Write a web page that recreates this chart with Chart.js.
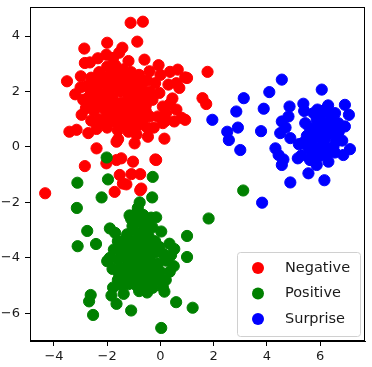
<!DOCTYPE html>
<html>
<head>
<meta charset="utf-8">
<script src="https://cdn.jsdelivr.net/npm/chart.js@4"></script>
<style>
  html, body { margin: 0; padding: 0; background: #fff; }
  #wrap { width: 372px; height: 367px; }
</style>
</head>
<body>
<div id="wrap"><canvas id="myChart"></canvas></div>
<script>
const seriesNames = ['Negative', 'Positive', 'Surprise'];
const seriesColors = ['#ff0000', '#008000', '#0000ff'];

const xTicks = [-4, -2, 0, 2, 4, 6];
const yTicks = [-6, -4, -2, 0, 2, 4];

// Negative (red)
const negative = [
    [-1.12, 4.48], [-0.66, 4.52], [-2.86, 3.55], [-2.0, 3.76], [-1.43, 3.58], [-0.87, 3.80],
    [-2.84, 3.03], [-2.03, 3.33], [-1.78, 3.21], [-3.51, 2.37], [-2.99, 2.55], [-0.07, 2.95],
    [0.36, 2.71], [0.65, 2.79], [0.93, 2.51], [1.77, 2.71], [0.71, 2.13], [1.58, 1.76],
    [1.72, 1.55], [0.93, 0.98], [0.52, 0.92], [0.09, 0.86], [0.21, 1.22], [0.09, 1.46],
    [-0.04, 1.95], [-0.41, 2.73], [-3.42, 0.55], [-3.15, 0.62], [-2.71, 0.5], [-2.9, 1.7],
    [-2.96, 1.16], [-2.4, -0.05], [-2.84, -0.69], [-2.03, -0.59], [-4.33, -1.67], [-1.65, 0.19],
    [-0.97, 0.13], [-1.59, 0.28], [-0.47, 0.37], [0.15, 0.3], [-1.03, -0.53], [-1.47, -0.41],
    [-0.19, -0.45], [-1.53, -1.01], [-1.09, -0.98], [-0.76, -0.98], [-1.72, -1.62], [-1.41, -1.32],
    [-0.76, -1.56], [-1.28, -1.35], [-0.72, -1.5], [-1.65, -0.47], [-0.16, -0.47], [1.0, 2.49],
    [0.6, 1.35], [0.8, 1.05], [0.35, 1.55],
    [-2.6, 2.5], [-2.3, 2.7], [-2.0, 2.9], [-1.7, 2.95], [-1.4, 2.8], [-1.1, 2.7], [-0.8, 2.6],
    [-0.5, 2.4], [-0.2, 2.3], [-2.8, 2.2], [-2.5, 2.1], [-2.2, 2.3], [-1.9, 2.4], [-1.6, 2.5],
    [-1.3, 2.3], [-1.0, 2.2], [-0.7, 2.1], [-0.4, 2.0], [-2.7, 1.8], [-2.4, 1.7], [-2.1, 1.9],
    [-1.8, 1.8], [-1.5, 2.0], [-1.2, 1.8], [-0.9, 1.7], [-0.6, 1.6], [-0.3, 1.7], [-2.8, 1.4],
    [-2.5, 1.3], [-2.2, 1.5], [-1.9, 1.4], [-1.6, 1.5], [-1.3, 1.3], [-1.0, 1.4], [-0.7, 1.2],
    [-0.4, 1.1], [-2.6, 0.95], [-2.3, 1.0], [-2.0, 1.05], [-1.7, 0.9], [-1.4, 1.0], [-1.1, 0.85],
    [-0.8, 0.8], [-0.5, 0.7], [-2.4, 0.65], [-2.0, 0.7], [-1.6, 0.6], [-1.2, 0.55], [-0.9, 0.45],
    [-1.75, 1.65], [-1.45, 1.6], [-2.05, 1.6], [-1.55, 2.2], [-2.35, 2.0], [-1.15, 2.05],
    [-0.85, 1.95], [-2.55, 1.55], [-1.85, 1.2], [-1.25, 1.55], [-0.55, 1.3], [0.3, 2.25],
    [0.45, 1.75], [0.2, 0.95], [-0.25, 0.7], [-0.1, 1.1], [0.6, 2.3], [0.0, 2.6], [-3.2, 1.9],
    [-3.0, 2.15], [-2.65, 3.05], [-2.35, 3.2], [-1.55, 3.4], [-1.2, 3.1], [-0.6, 3.15],
    [-2.45, 2.35], [-2.15, 2.55], [-1.85, 2.65], [-1.55, 2.75], [-1.25, 2.55], [-0.95, 2.45],
    [-0.65, 2.35], [-2.6, 1.95], [-2.25, 1.85], [-1.95, 2.05], [-1.65, 2.15], [-1.35, 2.05],
    [-1.05, 1.95], [-0.75, 1.85], [-0.45, 1.8], [-2.35, 1.45], [-2.05, 1.3], [-1.75, 1.4],
    [-1.45, 1.3], [-1.15, 1.2], [-0.85, 1.45], [-0.55, 1.5], [-2.15, 0.85], [-1.85, 0.95],
    [-1.55, 1.1], [-1.25, 0.95], [-0.95, 1.1], [-0.65, 1.0], [-1.4, 0.75], [-1.05, 0.65]
];

// Positive (green)
const positive = [
    [-3.12, -1.29], [-2.21, -1.82], [-3.14, -2.2], [-2.75, -3.03], [-3.11, -3.58], [-2.42, -3.5],
    [-1.9, -2.94], [-2.0, -4.12], [-2.62, -5.34], [-2.68, -5.57], [-2.53, -6.06], [-1.1, -5.9],
    [0.03, -6.53], [0.59, -5.6], [-1.78, -5.07], [-1.84, -5.36], [-1.65, -5.66], [-1.38, -5.3],
    [-0.31, -1.82], [-0.29, -1.08], [-0.78, -2.0], [-1.16, -2.47], [-0.91, -2.4], [-0.16, -2.54],
    [0.03, -3.05], [0.34, -3.49], [0.52, -3.68], [1.0, -3.21], [1.0, -3.97], [1.21, -5.8],
    [0.15, -5.22], [-0.29, -5.08], [3.11, -1.57], [1.81, -2.58], [0.27, -4.09], [0.09, -5.06],
    [-1.97, -1.17], [-1.97, -4.09], [-2.02, -0.38],
    [-1.1, -2.6], [-0.8, -2.7], [-0.5, -2.75], [-0.3, -2.9], [-1.0, -3.0], [-0.7, -3.1],
    [-0.45, -3.2], [-1.3, -3.3], [-1.6, -3.4], [-1.0, -3.4], [-0.2, -3.4], [-1.75, -3.7],
    [-1.4, -3.65], [-1.1, -3.75], [-0.8, -3.6], [-0.5, -3.7], [-0.2, -3.8], [0.1, -3.85],
    [0.4, -3.9], [-1.9, -4.0], [-1.6, -4.05], [-1.3, -4.0], [-1.0, -4.1], [-0.7, -4.0],
    [-0.4, -4.1], [-0.1, -4.2], [0.2, -4.1], [-1.5, -4.35], [-1.2, -4.4], [-0.9, -4.35],
    [-0.6, -4.45], [-0.3, -4.4], [0.0, -4.5], [-1.35, -4.7], [-1.05, -4.65], [-0.75, -4.75],
    [-0.45, -4.7], [-0.15, -4.8], [-1.2, -4.95], [-0.9, -5.0], [-0.6, -5.05], [-0.35, -4.95],
    [-0.8, -5.2], [-0.5, -5.25], [-1.55, -4.6], [-0.95, -3.9], [-0.6, -3.85], [-1.25, -3.15],
    [-0.65, -2.45], [-0.35, -2.55], [-0.85, -2.2], [-1.8, -4.4], [-1.7, -3.1], [0.35, -4.5],
    [0.5, -4.3], [-0.05, -3.6], [-1.45, -5.0], [0.2, -4.8],
    [-1.15, -3.5], [-0.85, -3.3], [-0.55, -3.45], [-0.3, -3.6], [-1.45, -3.85], [-1.2, -4.2],
    [-0.85, -4.15], [-0.55, -4.25], [-0.25, -4.6], [-0.95, -4.55], [-0.65, -4.65], [-1.15, -4.8],
    [-0.7, -4.9], [-0.4, -5.1], [-1.3, -4.5], [-0.75, -3.8], [-0.4, -3.95], [-1.05, -2.85],
    [-0.6, -2.9], [-1.6, -4.8]
];

// Surprise (blue)
const surprise = [
    [4.56, 2.43], [4.09, 1.98], [3.13, 1.76], [6.06, 2.07], [5.37, 1.56], [6.93, 1.52],
    [3.88, 1.38], [2.85, 1.28], [1.95, 0.98], [4.85, 1.46], [2.91, 0.7], [2.51, 0.55],
    [2.57, 0.25], [3.78, 0.57], [3.0, -0.11], [4.56, 0.92], [4.81, 1.1], [4.5, 0.5],
    [4.88, 0.32], [4.32, -0.05], [4.44, -0.29], [4.56, -0.65], [5.16, -0.41], [4.88, -1.28],
    [5.56, -0.95], [6.16, -1.2], [3.82, -2.01], [5.62, -0.47], [5.93, -0.35], [6.31, -0.53],
    [5.87, -0.65], [6.87, -0.29], [7.12, -0.08], [6.83, 0.23], [6.93, 0.74], [7.08, 1.16],
    [5.44, 0.86], [5.75, 1.22], [6.18, 1.34], [6.56, 1.22], [6.68, 0.86], [6.43, 0.5],
    [6.06, 0.25], [5.68, 0.25], [5.56, -0.05], [6.31, -0.05], [5.93, 0.74], [6.24, 0.62],
    [5.75, 0.55], [6.43, 0.98], [5.87, 0.98], [6.1, 0.0], [5.5, 0.4], [6.6, 0.2],
    [6.0, -0.3], [5.4, 1.3], [6.3, 1.5], [4.7, 0.7], [4.62, -0.45], [5.2, 0.1], [6.55, -0.2],
    [5.6, 0.7], [5.9, 0.45], [6.2, 0.85], [6.45, 0.75], [6.0, 1.1], [6.35, 1.2], [5.8, 0.0],
    [6.2, 0.3], [6.5, 0.0], [5.7, -0.25], [6.25, -0.3], [5.9, 1.35], [6.7, 0.55], [6.05, 0.6],
    [5.35, 0.15], [5.3, -0.3]
];

const seriesData = [negative, positive, surprise];

const FONT = 'DejaVu Sans';

// frame around the plot area + legend box in the lower right, like matplotlib
const framePlugin = {
    id: 'frame',
    afterDraw(chart) {
        const { ctx, chartArea: a } = chart;
        ctx.save();
        ctx.strokeStyle = '#000';
        ctx.lineWidth = 1;
        ctx.strokeRect(Math.round(a.left) + 0.5, Math.round(a.top) + 0.5,
            Math.round(a.right - a.left) - 1, Math.round(a.bottom - a.top) - 1);

        // legend
        const bx = 237, by = 252, bw = 123, bh = 84;
        ctx.fillStyle = 'rgba(255,255,255,0.8)';
        ctx.strokeStyle = '#d0d0d0';
        ctx.beginPath();
        ctx.roundRect(bx + 0.5, by + 0.5, bw, bh, 3);
        ctx.fill();
        ctx.stroke();
        ctx.font = '14.5px "' + FONT + '"';
        ctx.textBaseline = 'middle';
        seriesNames.forEach((name, i) => {
            const cy = 268 + i * 25.5;
            ctx.fillStyle = seriesColors[i];
            ctx.beginPath();
            ctx.arc(258, cy, 6, 0, Math.PI * 2);
            ctx.fill();
            ctx.fillStyle = '#1a1a1a';
            ctx.fillText(name, 285, cy);
        });
        ctx.restore();
    }
};

const ctx = document.getElementById('myChart').getContext('2d');

new Chart(ctx, {
    type: 'scatter',
    data: {
        datasets: seriesNames.map((name, i) => ({
            label: name,
            data: seriesData[i].map(p => ({ x: p[0], y: p[1] })),
            backgroundColor: seriesColors[i],
            borderColor: seriesColors[i],
            borderWidth: 1,
            pointRadius: 5.6,
            pointHoverRadius: 5.6,
            order: 3 - i
        }))
    },
    options: {
        responsive: true,
        maintainAspectRatio: false,
        animation: false,
        layout: { padding: { top: 7, right: 5, left: 0, bottom: 0 } },
        plugins: {
            legend: { display: false },
            tooltip: { enabled: false }
        },
        scales: {
            x: {
                type: 'linear',
                min: -4.9,
                max: 7.7,
                afterBuildTicks: s => { s.ticks = xTicks.map(v => ({ value: v })); },
                afterFit: s => { s.height = 26; s.paddingLeft = 0; s.paddingRight = 0; },
                grid: { drawOnChartArea: false, color: '#000', tickLength: 5 },
                border: { display: true, color: '#000' },
                ticks: {
                    color: '#1a1a1a',
                    padding: 3,
                    font: { family: FONT, size: 13 },
                    callback: v => String(v).replace('-', '\u2212')
                }
            },
            y: {
                type: 'linear',
                min: -7.0,
                max: 5.05,
                afterBuildTicks: s => { s.ticks = yTicks.map(v => ({ value: v })); },
                afterFit: s => { s.width = 30; s.paddingTop = 0; s.paddingBottom = 0; },
                grid: { drawOnChartArea: false, color: '#000', tickLength: 5 },
                border: { display: true, color: '#000' },
                ticks: {
                    color: '#1a1a1a',
                    padding: 5,
                    font: { family: FONT, size: 13 },
                    callback: v => String(v).replace('-', '\u2212')
                }
            }
        }
    },
    plugins: [framePlugin]
});
</script>
</body>
</html>
